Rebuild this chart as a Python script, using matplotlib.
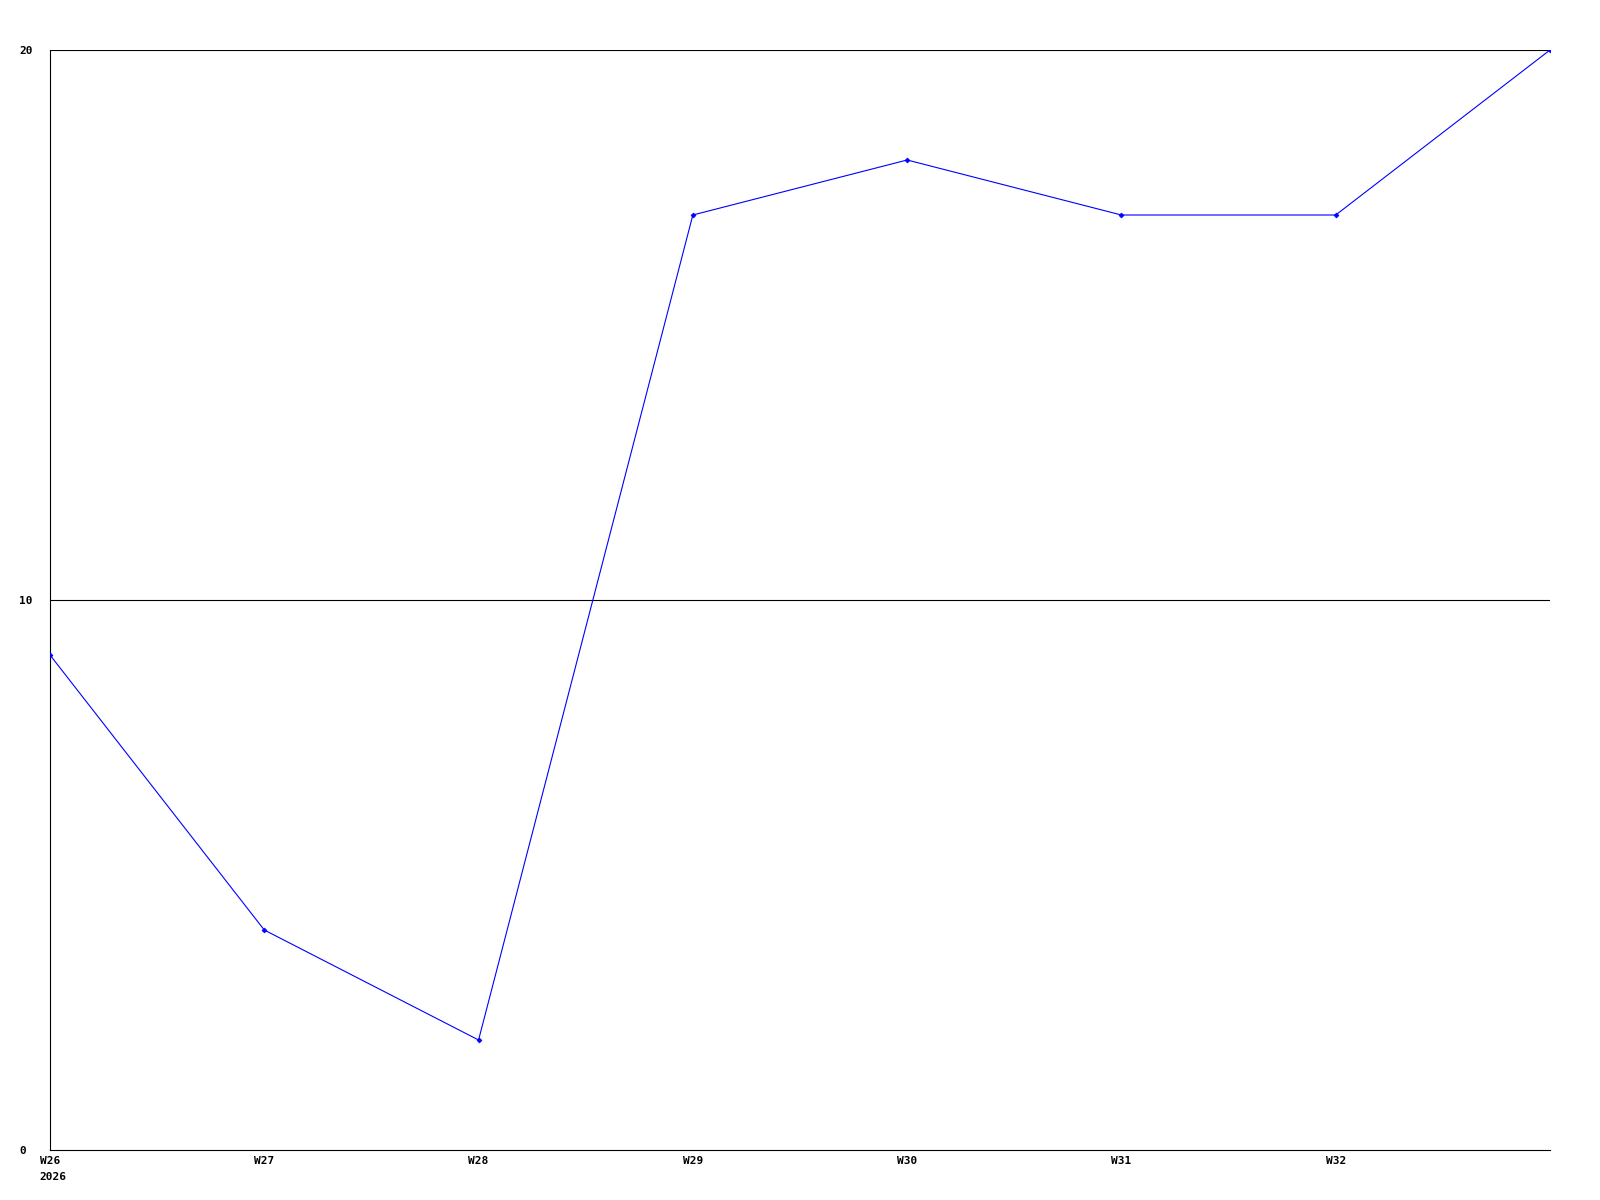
import matplotlib
matplotlib.use("Agg")
import matplotlib.pyplot as plt

weeks = ["W26", "W27", "W28", "W29", "W30", "W31", "W32", "W33"]
values = [9, 4, 2, 17, 18, 17, 17, 20]
year_label = "2026"
y_ticks = [0, 10, 20]

fig = plt.figure(figsize=(16, 12), dpi=100)
ax = fig.add_axes([50/1600, 1 - 1150/1200, 1500/1600, 1100/1200])

x = list(range(len(weeks)))
ax.plot(x, values, color="#0000ff", linewidth=0.8, marker="D", markersize=2.5,
        markeredgewidth=0.5, zorder=3)

ax.set_xlim(0, len(weeks) - 1)
ax.set_ylim(0, 20)

for yv in y_ticks[1:]:
    ax.axhline(yv, color="black", linewidth=0.8, zorder=1)

for s in ["top", "right"]:
    ax.spines[s].set_visible(False)
for s in ["left", "bottom"]:
    ax.spines[s].set_linewidth(0.8)
    ax.spines[s].set_color("black")

font = dict(family="DejaVu Sans Mono", weight="bold", size=8)

ax.set_xticks(x[:-1])
ax.set_xticklabels(weeks[:-1], **font)
ax.set_yticks(y_ticks)
ax.set_yticklabels([str(v) for v in y_ticks], ha="left", **font)
ax.tick_params(axis="x", length=0, pad=4)
ax.tick_params(axis="y", length=0, pad=22)

ax.annotate(year_label, xy=(0, 0), xycoords=("data", "axes fraction"),
            xytext=(-8, -16), textcoords="offset points", ha="left", va="top", **font)

fig.savefig("out.png", dpi=100)
